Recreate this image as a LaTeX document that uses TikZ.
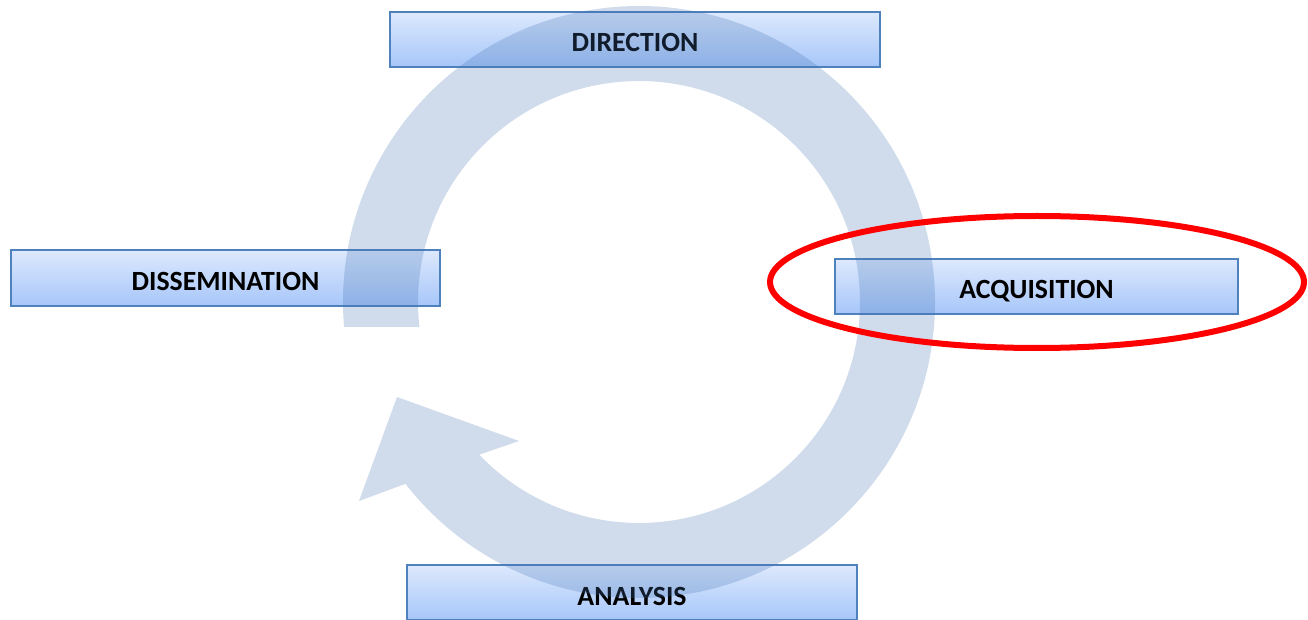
\documentclass[tikz,border=0pt]{standalone}
\usepackage{fontspec}
\setmainfont{Carlito}
\definecolor{boxtop}{HTML}{DDE9FD}
\definecolor{boxbot}{HTML}{A6C6F9}
\definecolor{boxline}{HTML}{4F81BD}
\definecolor{cyc}{HTML}{4373B3}
\definecolor{ring}{HTML}{FF0000}
\begin{document}
\begin{tikzpicture}[x=1pt,y=1pt,
  stage/.style={draw=boxline, line width=1.5pt, top color=boxtop, bottom color=boxbot,
    minimum height=55pt, inner sep=0pt, text height=25pt, text depth=0pt,
    font=\fontsize{27.8}{33}\selectfont\bfseries, text=black},
  cycarrow/.style={fill=cyc, fill opacity=0.25},
  highlight/.style={draw=ring, line width=6pt}
]
\useasboundingbox (0,0) rectangle (1308,619);
\node[stage, minimum width=490pt] (dir) at (635,579.5) {DIRECTION};
\node[stage, minimum width=429pt, minimum height=56pt] (dis) at (225.5,341) {DISSEMINATION};
\node[stage, minimum width=403pt] (acq) at (1036.5,332.5) {ACQUISITION};
\node[stage, minimum width=450pt] (ana) at (632,26.5) {ANALYSIS};
\coordinate (c) at (639,317);
\fill[cycarrow] ([shift={(184.8:296)}]c) arc[start angle=184.8, end angle=-142.1, radius=296]
  -- (359,118) -- (397,222) -- (519,178)
  -- ([shift={(-136.3:221)}]c) arc[start angle=-136.3, end angle=186.5, radius=221] -- cycle;
\draw[highlight] (1037,337) ellipse[x radius=267, y radius=66];
\end{tikzpicture}
\end{document}
